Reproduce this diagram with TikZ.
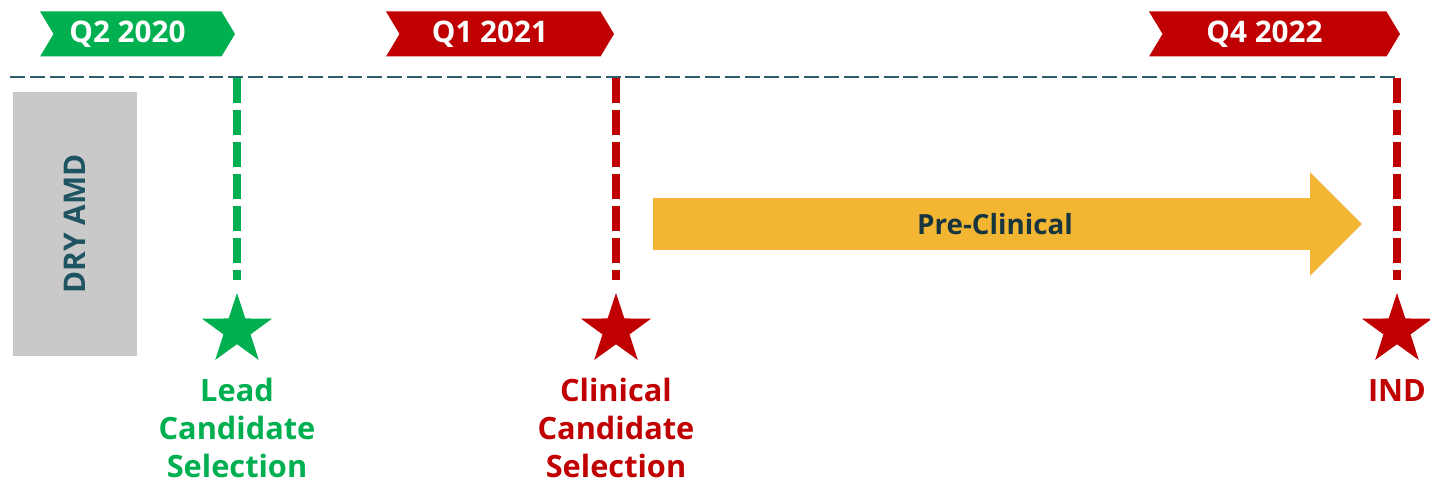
\documentclass[tikz,border=0pt]{standalone}
\usepackage{fontspec}
\setmainfont{Open Sans}
\usetikzlibrary{shapes.geometric, shapes.symbols, shapes.arrows, positioning}

\definecolor{msgreen}{HTML}{00B050}
\definecolor{msred}{HTML}{C00000}
\definecolor{amber}{HTML}{F2B632}
\definecolor{panelgray}{HTML}{C8C9C8}
\definecolor{lineteal}{HTML}{2F5E6B}
\definecolor{darkteal}{HTML}{1F5563}
\definecolor{inkblue}{HTML}{17343F}

\begin{document}
\begin{tikzpicture}[x=0.02cm, y=-0.02cm,
    % Define styles
    quarter/.style={signal, signal from=west, signal to=east, signal pointer angle=118, minimum height=0.9cm, inner sep=0pt},
    tagtext/.style={text=white, xshift=-0.2cm, font=\fontsize{16.9}{20}\selectfont\bfseries},
    panel/.style={rectangle, fill=panelgray, rotate=90, minimum width=5.28cm, minimum height=2.48cm, text=darkteal, font=\fontsize{17}{20}\selectfont\bfseries},
    milestone/.style={star, star points=5, star point ratio=2.6, minimum size=1.48cm, inner sep=0pt},
    caption/.style={anchor=north, align=center, inner sep=0pt, font=\fontsize{17.5}{21.5}\selectfont\bfseries},
    phase/.style={single arrow, fill=amber, minimum height=14.18cm, minimum width=2.06cm, single arrow head extend=0.52cm, single arrow tip angle=90, inner xsep=0pt, inner ysep=0.51cm},
    gate/.style={line width=4.5pt, dash pattern=on 14.2pt off 4pt, shorten >=6.8pt},
    timeline/.style={line width=1.1pt, dash pattern=on 8.5pt off 2.8pt, draw=lineteal},
    ]
    \useasboundingbox (0,0) rectangle (1430,482);

    % Quarter tags
    \node[quarter, fill=msgreen, minimum width=3.9cm, label={[tagtext]center:Q2 2020}] (q2) at (137.5,34) {};
    \node[quarter, fill=msred, minimum width=4.56cm, label={[tagtext]center:Q1 2021}] (q1) at (500,34) {};
    \node[quarter, fill=msred, minimum width=5.02cm, label={[tagtext]center:Q4 2022}] (q4) at (1274.5,34) {};

    % Timeline
    \coordinate (tl start) at (10,77);
    \coordinate (tl end) at (1398,77);
    \draw[timeline] (tl start) -- (tl end);

    % Program box
    \node[panel] (dry) at (75,224) {DRY AMD};

    % Milestones
    \node[milestone, fill=msgreen] (lead) at (237,330) {};
    \node[milestone, fill=msred] (clin) at (616,330) {};
    \node[milestone, fill=msred] (ind) at (1397,330) {};

    \coordinate (lead top) at (237,78);
    \coordinate (clin top) at (616,78);
    \coordinate (ind top) at (1397,78);
    \draw[gate, msgreen] (lead top) -- (lead.north);
    \draw[gate, msred] (clin top) -- (clin.north);
    \draw[gate, msred] (ind top) -- (ind.north);

    \node[caption, text=msgreen] (lead txt) at (237,378) {Lead\\Candidate\\Selection};
    \node[caption, text=msred] (clin txt) at (616,378) {Clinical\\Candidate\\Selection};
    \node[caption, text=msred] (ind txt) at (1397,379) {IND};

    % Pre-clinical phase
    \node[phase] (preclin) at (994.5,224) {};
    \node[text=inkblue, font=\fontsize{15.8}{19}\selectfont\bfseries] (preclin txt) at (995,224) {Pre-Clinical};

\end{tikzpicture}
\end{document}
